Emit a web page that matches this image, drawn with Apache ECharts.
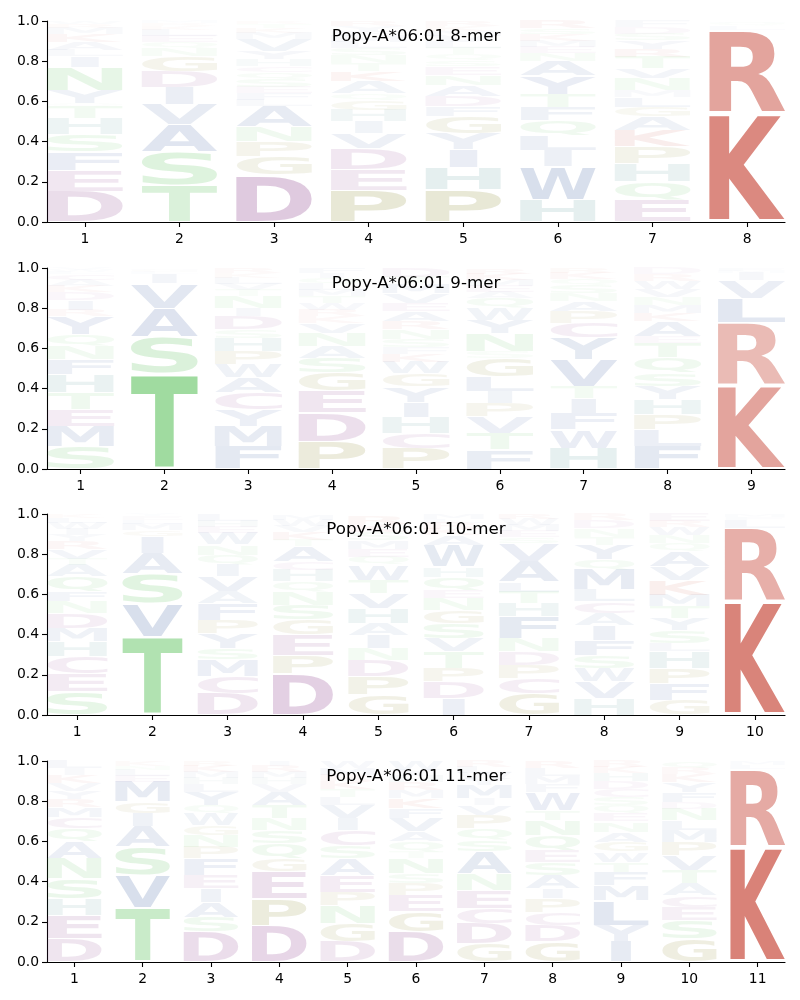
<!DOCTYPE html>
<html><head><meta charset="utf-8">
<script src="https://cdn.jsdelivr.net/npm/echarts@6/dist/echarts.min.js"></script>
<style>html,body{margin:0;padding:0;background:#fff}#c{width:800px;height:1000px}</style>
</head><body><div id="c"></div>
<script>
// ---- Data: each column is a stack of [letter, probability] from bottom to top ----
const titles = ['Popy-A*06:01 8-mer', 'Popy-A*06:01 9-mer', 'Popy-A*06:01 10-mer', 'Popy-A*06:01 11-mer'];

const logo8 = [
  [['D',.154],['E',.104],['F',.091],['S',.086],['H',.080],['T',.061],['Q',.013],['Y',.066],['N',.116],['I',.053],['L',.03],['A',.04],['K',.04],['M',.03],['R',.02],['W',.014]],
  [['T',.184],['S',.166],['A',.133],['V',.10],['I',.088],['D',.078],['G',.075],['N',.04],['Q',.03],['E',.03],['L',.03],['K',.02],['R',.015],['M',.011]],
  [['D',.234],['G',.091],['P',.075],['N',.075],['A',.10],['L',.03],['F',.035],['E',.03],['S',.04],['Q',.035],['C',.03],['H',.035],['Y',.04],['V',.06],['M',.03],['K',.025],['T',.02],['R',.015]],
  [['P',.159],['E',.103],['D',.104],['V',.075],['I',.058],['H',.058],['G',.05],['Q',.033],['A',.058],['K',.05],['T',.04],['N',.04],['S',.035],['L',.03],['M',.03],['F',.025],['Y',.025],['R',.027]],
  [['P',.159],['H',.111],['I',.091],['Y',.08],['G',.083],['F',.05],['D',.053],['A',.055],['N',.05],['E',.041],['S',.03],['Q',.03],['T',.03],['L',.03],['V',.03],['M',.025],['K',.025],['R',.027]],
  [['H',.109],['W',.166],['I',.08],['L',.075],['Q',.075],['F',.066],['T',.066],['Y',.09],['A',.075],['N',.04],['E',.03],['M',.03],['K',.03],['S',.03],['R',.038]],
  [['E',.109],['Q',.091],['H',.091],['P',.083],['K',.083],['A',.066],['G',.05],['L',.05],['M',.033],['N',.058],['V',.05],['T',.058],['R',.04],['Y',.04],['S',.035],['D',.03],['F',.032]],
  [['K',.541],['R',.415],['L',.02],['Q',.015],['H',.009]]
];

const logo9 = [
  [['S',.113],['M',.10],['E',.083],['T',.083],['H',.091],['F',.075],['N',.066],['Q',.058],['Y',.09],['R',.03],['I',.05],['D',.04],['K',.03],['A',.03],['C',.03],['L',.01],['W',.01],['V',.01]],
  [['T',.475],['S',.182],['A',.141],['V',.124],['I',.05],['L',.01],['G',.01],['M',.008]],
  [['F',.113],['M',.10],['Y',.083],['C',.083],['A',.075],['W',.066],['P',.066],['H',.066],['S',.041],['D',.066],['I',.041],['N',.058],['T',.03],['V',.03],['L',.03],['K',.025],['R',.026]],
  [['P',.138],['D',.141],['E',.108],['G',.091],['S',.075],['A',.058],['N',.066],['V',.05],['K',.033],['R',.03],['W',.035],['T',.035],['M',.03],['L',.03],['Q',.03],['I',.025],['F',.026]],
  [['P',.10],['C',.075],['H',.083],['I',.075],['Y',.075],['G',.066],['W',.058],['K',.041],['F',.033],['S',.04],['N',.05],['R',.04],['A',.05],['E',.04],['V',.05],['M',.05],['T',.03],['D',.044]],
  [['F',.096],['T',.083],['V',.083],['P',.066],['I',.058],['L',.075],['G',.091],['S',.033],['N',.091],['Y',.066],['W',.058],['Q',.05],['A',.03],['E',.03],['M',.03],['K',.03],['R',.029]],
  [['H',.104],['W',.091],['F',.083],['I',.075],['T',.058],['V',.133],['Y',.108],['C',.075],['P',.058],['A',.05],['N',.04],['S',.04],['Q',.03],['K',.03],['R',.025]],
  [['F',.113],['L',.083],['P',.075],['H',.075],['Y',.066],['S',.066],['Q',.075],['T',.075],['E',.033],['A',.075],['K',.041],['M',.04],['N',.04],['V',.04],['W',.04],['R',.03],['D',.033]],
  [['K',.415],['R',.312],['L',.124],['V',.086],['I',.038],['M',.01],['F',.015]]
];

const logo10 = [
  [['S',.116],['E',.091],['C',.083],['H',.075],['M',.066],['D',.075],['N',.058],['F',.05],['Q',.075],['A',.058],['T',.03],['V',.05],['R',.04],['Y',.03],['I',.03],['W',.03],['L',.024],['K',.019]],
  [['T',.39],['V',.166],['S',.149],['A',.10],['I',.083],['G',.03],['M',.03],['L',.02],['E',.02],['Y',.012]],
  [['D',.108],['C',.083],['M',.083],['S',.058],['Y',.075],['P',.066],['F',.083],['A',.058],['V',.075],['I',.058],['Q',.05],['N',.05],['W',.058],['E',.03],['H',.03],['L',.035]],
  [['D',.207],['P',.091],['E',.10],['G',.075],['S',.075],['N',.066],['Q',.05],['H',.058],['C',.041],['A',.075],['T',.033],['K',.04],['V',.03],['W',.03],['M',.029]],
  [['G',.10],['P',.091],['D',.083],['N',.058],['I',.066],['A',.058],['H',.075],['V',.075],['T',.066],['W',.075],['Q',.04],['E',.04],['M',.04],['S',.04],['K',.04],['R',.043]],
  [['I',.083],['D',.083],['P',.066],['T',.083],['V',.066],['S',.075],['G',.066],['N',.058],['E',.041],['Q',.066],['H',.05],['W',.108],['A',.05],['K',.03],['R',.03],['L',.02],['M',.024]],
  [['G',.108],['C',.075],['P',.066],['D',.066],['N',.066],['F',.108],['H',.066],['T',.058],['L',.05],['A',.10],['V',.091],['S',.03],['E',.03],['M',.03],['W',.03],['R',.026]],
  [['H',.083],['V',.083],['W',.066],['S',.066],['F',.075],['I',.075],['A',.058],['C',.058],['L',.058],['M',.10],['Q',.05],['Y',.075],['T',.04],['N',.04],['D',.04],['R',.033]],
  [['G',.075],['F',.083],['P',.075],['H',.083],['L',.041],['S',.066],['Y',.058],['T',.058],['M',.058],['K',.075],['V',.066],['A',.075],['Q',.04],['N',.04],['W',.04],['R',.03],['E',.037]],
  [['K',.564],['R',.365],['L',.041],['F',.015],['M',.015]]
];

const logo11 = [
  [['D',.116],['E',.116],['H',.083],['S',.10],['N',.10],['A',.083],['Q',.066],['C',.058],['M',.05],['R',.04],['Y',.04],['V',.04],['K',.04],['I',.03],['L',.038]],
  [['T',.269],['V',.163],['S',.141],['A',.10],['I',.066],['G',.058],['M',.10],['E',.03],['L',.03],['N',.02],['K',.023]],
  [['D',.149],['S',.075],['A',.075],['I',.066],['E',.066],['F',.083],['P',.058],['N',.058],['G',.05],['W',.058],['Q',.041],['Y',.066],['L',.04],['H',.03],['M',.03],['K',.03],['R',.024]],
  [['D',.182],['P',.133],['E',.133],['G',.066],['Q',.075],['S',.066],['N',.058],['T',.066],['A',.066],['V',.04],['H',.03],['M',.03],['R',.03],['I',.024]],
  [['D',.10],['G',.091],['N',.091],['P',.066],['E',.083],['A',.083],['S',.066],['C',.075],['I',.058],['V',.066],['L',.04],['T',.04],['K',.04],['R',.03],['M',.035],['W',.036]],
  [['D',.151],['G',.10],['E',.083],['P',.058],['S',.05],['N',.075],['T',.033],['Q',.05],['A',.05],['V',.066],['F',.05],['K',.05],['M',.04],['R',.04],['H',.03],['Y',.03],['W',.044]],
  [['G',.091],['D',.10],['C',.075],['E',.091],['N',.083],['A',.108],['S',.058],['Q',.058],['P',.066],['V',.05],['I',.033],['M',.066],['Y',.03],['W',.03],['L',.03],['R',.031]],
  [['G',.10],['D',.083],['C',.066],['P',.066],['I',.05],['A',.066],['S',.066],['E',.058],['Q',.075],['N',.075],['T',.05],['W',.091],['F',.04],['M',.04],['L',.04],['R',.034]],
  [['I',.10],['Y',.083],['L',.124],['M',.075],['F',.066],['T',.05],['W',.05],['G',.05],['A',.05],['N',.05],['E',.041],['Q',.04],['S',.04],['C',.04],['D',.04],['H',.04],['K',.03],['R',.031]],
  [['G',.116],['S',.091],['E',.066],['C',.058],['A',.058],['T',.066],['V',.075],['P',.066],['M',.058],['L',.05],['N',.058],['D',.033],['F',.05],['Y',.05],['K',.04],['R',.03],['Q',.035]],
  [['K',.572],['R',.39],['L',.02],['M',.018]]
];

const logos = [logo8, logo9, logo10, logo11];
const yTicks = [0, 0.2, 0.4, 0.6, 0.8, 1.0];

// ---- Styling ----
const FAMILY = '"DejaVu Sans"';
const GLYPH_FONT = 'bold 200px "DejaVu Sans"';
const ALPH = 'ACDEFGHIKLMNPQRSTVWY';
const GROUP_COLORS = {
  K:[188,37,20], R:[188,37,20],
  D:[120,30,120], E:[120,30,120], C:[120,30,120],
  S:[55,180,55], T:[55,180,55], N:[55,180,55], Q:[55,180,55],
  P:[115,110,0], G:[115,110,0],
  H:[20,110,110],
  A:[20,60,140], V:[20,60,140], L:[20,60,140], I:[20,60,140], M:[20,60,140], F:[20,60,140], W:[20,60,140], Y:[20,60,140]
};
const LETTER_W = 0.8, VPAD = 0.05;

const ctx = document.createElement('canvas').getContext('2d');
ctx.font = GLYPH_FONT; ctx.textAlign = 'left'; ctx.textBaseline = 'middle';
const metrics = {};
for (const L of ALPH) {
  const m = ctx.measureText(L);
  metrics[L] = { l: -m.actualBoundingBoxLeft, t: -m.actualBoundingBoxAscent,
    w: m.actualBoundingBoxLeft + m.actualBoundingBoxRight,
    h: m.actualBoundingBoxAscent + m.actualBoundingBoxDescent };
}
const refW = metrics['E'].w;

function renderItem(params, api) {
  const x = api.value(0), y0 = api.value(1), y1 = api.value(2);
  const L = ALPH[api.value(3)];
  const hgt = y1 - y0;
  const pad = hgt * VPAD / 2;
  const p0 = api.coord([x - LETTER_W / 2, y1 - pad]);
  const p1 = api.coord([x + LETTER_W / 2, y0 + pad]);
  const bw = p1[0] - p0[0], bh = p1[1] - p0[1];
  if (bh < 0.2) return null;
  const m = metrics[L];
  const sx = Math.min(bw / m.w, bw / refW);
  const sy = bh / m.h;
  const left = p0[0] + (bw - m.w * sx) / 2;
  const c = GROUP_COLORS[L];
  const a = Math.min(1, hgt);
  return {
    type: 'text', silent: true,
    x: left - m.l * sx, y: p0[1] - m.t * sy, scaleX: sx, scaleY: sy,
    style: { text: L, x: 0, y: 0, font: GLYPH_FONT,
      fill: 'rgba(' + c[0] + ',' + c[1] + ',' + c[2] + ',' + a.toFixed(3) + ')',
      align: 'left', verticalAlign: 'middle', textAlign: 'left', textVerticalAlign: 'middle' }
  };
}

const gridTops = [21, 268, 514, 761];
const titleTops = [27, 274, 520, 767];
const option = { animation: false, title: [], grid: [], xAxis: [], yAxis: [], series: [] };
logos.forEach((logo, i) => {
  const n = logo.length;
  const pos = logo.map((_, k) => k + 1);
  option.title.push({ text: titles[i], left: 416, top: titleTops[i], textAlign: 'center', padding: 0,
    textStyle: { fontFamily: FAMILY, fontSize: 16.7, fontWeight: 'normal', color: '#000', lineHeight: 20 } });
  option.grid.push({ left: 47, right: 15, top: gridTops[i], height: 201, containLabel: false });
  option.xAxis.push({ gridIndex: i, type: 'value', min: 0.6, max: n + 0.4,
    axisLine: { show: true, onZero: false, lineStyle: { color: '#000', width: 1.1 } },
    axisTick: { show: true, customValues: pos, length: 5, lineStyle: { color: '#000', width: 1.1 } },
    axisLabel: { show: true, customValues: pos, color: '#000', fontFamily: FAMILY, fontSize: 13.9, margin: 10,
      formatter: v => String(Math.round(v)) },
    splitLine: { show: false } });
  option.yAxis.push({ gridIndex: i, type: 'value', min: 0, max: 1, interval: 0.2,
    axisLine: { show: true, onZero: false, lineStyle: { color: '#000', width: 1.1 } },
    axisTick: { show: true, customValues: yTicks, length: 5, lineStyle: { color: '#000', width: 1.1 } },
    axisLabel: { show: true, customValues: yTicks, color: '#000', fontFamily: FAMILY, fontSize: 13.9, margin: 8,
      formatter: v => Number(v).toFixed(1) },
    splitLine: { show: false } });
  const data = [];
  logo.forEach((col, k) => {
    let acc = 0;
    col.forEach(([L, v]) => {
      data.push([k + 1, acc, acc + v, ALPH.indexOf(L), v]);
      acc += v;
    });
  });
  option.series.push({ type: 'custom', xAxisIndex: i, yAxisIndex: i, renderItem, data,
    encode: { x: [0], y: [1, 2] }, silent: true, clip: false, animation: false });
});

const chart = echarts.init(document.getElementById('c'), null, { renderer: 'canvas' });
chart.setOption(option);
</script>
</body></html>
